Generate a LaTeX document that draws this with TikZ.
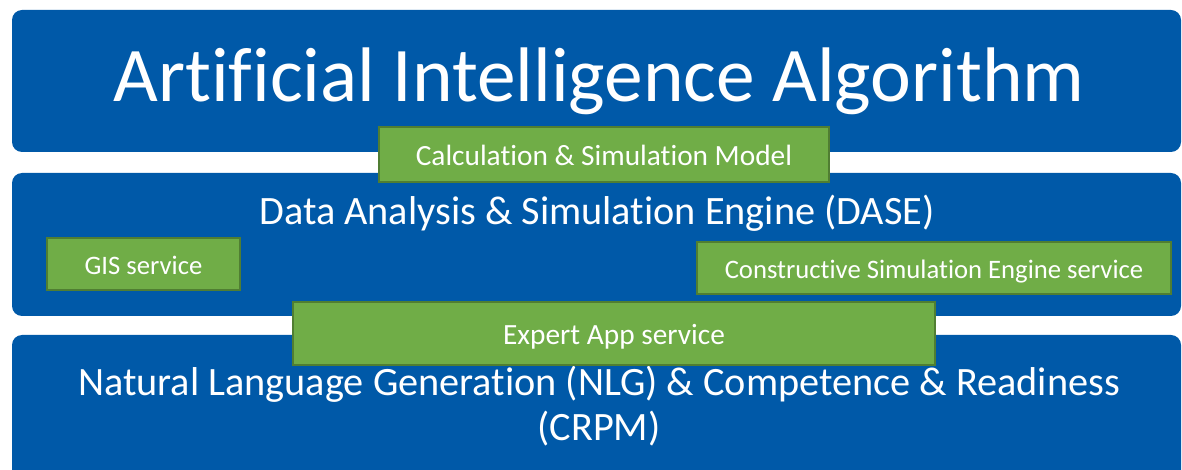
\documentclass[tikz,border=0pt]{standalone}
\usepackage{fontspec}
\setmainfont[Ligatures=NoCommon]{Carlito}
\usetikzlibrary{positioning}
\definecolor{layerblue}{RGB}{0,89,168}
\definecolor{servicegreen}{RGB}{112,173,71}
\definecolor{servicedark}{RGB}{80,126,50}

\begin{document}
\begin{tikzpicture}[
    x=0.75pt, y=-0.75pt,
    layer/.style={fill=layerblue, rounded corners=7.5pt, minimum width=876.75pt, inner sep=0pt},
    service/.style={draw=servicedark, line width=1.5pt, fill=servicegreen, text=white, inner sep=0pt,
        text height=16pt, text depth=0pt, font=\fontsize{22}{24}\selectfont},
    smallservice/.style={service, font=\fontsize{20}{22}\selectfont},
    caption/.style={text=white, inner sep=0pt, anchor=base, font=\fontsize{30.2}{33.75}\selectfont}
]
    \useasboundingbox (0,0) rectangle (1182,470);
    \clip (0,0) rectangle (1182,470);

    % three layers
    \node[layer, minimum height=106.5pt] (algo) at (596.5,81) {};
    \node[layer, minimum height=107.25pt] (dase) at (596.5,244.5) {};
    \node[layer, minimum height=112.5pt] (nlg) at (596.5,410) {};

    \node[caption, font=\fontsize{58}{60}\selectfont] (algotext) at (599,102) {Artificial Intelligence Algorithm};
    \node[caption] (dasetext) at (597,225) {Data Analysis \& Simulation Engine (DASE)};
    \node[caption, align=center] (nlgtext) at (599,440)
        {Natural Language Generation (NLG) \& Competence \& Readiness\\(CRPM)};

    % services
    \node[service, minimum width=337.5pt, minimum height=41.25pt] (calc) at (604,154.5) {Calculation \& Simulation Model};
    \node[smallservice, minimum width=144.75pt, minimum height=39pt] (gis) at (143.5,264) {GIS service};
    \node[smallservice, minimum width=355.5pt, minimum height=39pt] (cse) at (934,268) {Constructive Simulation Engine service};
    \node[service, minimum width=481.5pt, minimum height=47.25pt] (expert) at (614,333.5) {Expert App service};
\end{tikzpicture}
\end{document}
